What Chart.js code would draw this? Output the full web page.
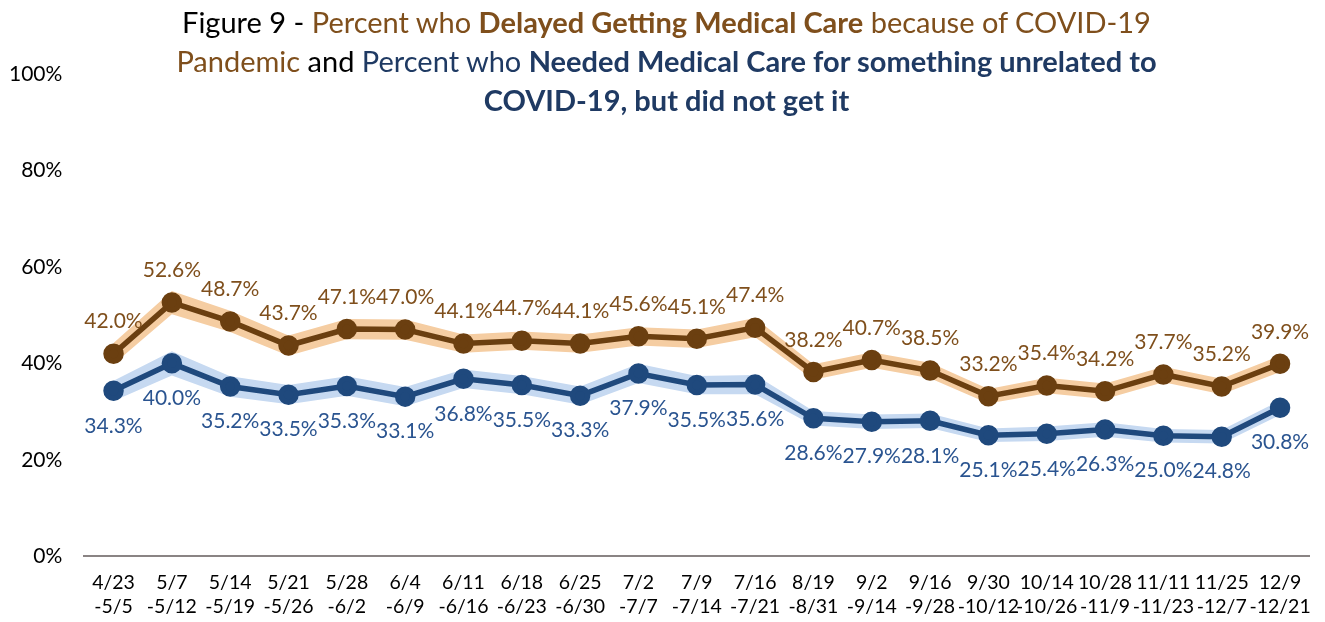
<!DOCTYPE html>
<html>
<head>
<meta charset="utf-8">
<script src="https://cdn.jsdelivr.net/npm/chart.js@4.4.1/dist/chart.umd.min.js"></script>
<style>
    body { margin: 0; background: #fff; }
    #wrap { position: relative; width: 1325px; height: 622px; }
    #title {
        position: absolute; top: 2px; left: 4px; width: 1325px;
        text-align: center; font-family: Lato, sans-serif; font-size: 29px;
        line-height: 39px; color: #000; pointer-events: none;
    }
    .brown { color: #7f4f1c; }
    .navy { color: #1f3a63; }
    b { font-weight: 700; }
</style>
</head>
<body>
<div id="wrap">
    <canvas id="myChart" width="1325" height="622"></canvas>
    <div id="title">
        Figure 9 - <span class="brown">Percent who <b>Delayed Getting Medical Care</b> because of COVID-19<br>Pandemic</span>
        and <span class="navy">Percent who <b>Needed Medical Care for something unrelated to<br>COVID-19, but did not get it</b></span>
    </div>
</div>
<script>

const weekLabels = [
    ['4/23', '-5/5'], ['5/7', '-5/12'], ['5/14', '-5/19'], ['5/21', '-5/26'], ['5/28', '-6/2'],
    ['6/4', '-6/9'], ['6/11', '-6/16'], ['6/18', '-6/23'], ['6/25', '-6/30'], ['7/2', '-7/7'],
    ['7/9', '-7/14'], ['7/16', '-7/21'], ['8/19', '-8/31'], ['9/2', '-9/14'], ['9/16', '-9/28'],
    ['9/30', '-10/12'], ['10/14', '-10/26'], ['10/28', '-11/9'], ['11/11', '-11/23'], ['11/25', '-12/7'],
    ['12/9', '-12/21']
];

// delayed care because of pandemic
const delayedPct   = [42.0, 52.6, 48.7, 43.7, 47.1, 47.0, 44.1, 44.7, 44.1, 45.6, 45.1, 47.4, 38.2, 40.7, 38.5, 33.2, 35.4, 34.2, 37.7, 35.2, 39.9];
const delayedLow   = [39.8, 50.2, 46.5, 41.6, 45.0, 44.9, 42.2, 42.8, 42.2, 43.7, 43.2, 45.4, 36.6, 39.1, 36.9, 31.7, 33.8, 32.6, 36.1, 33.6, 38.2];
const delayedHigh  = [44.2, 55.0, 50.9, 45.8, 49.2, 49.1, 46.0, 46.6, 46.0, 47.5, 47.0, 49.4, 39.8, 42.3, 40.1, 34.7, 37.0, 35.8, 39.3, 36.8, 41.6];

// needed care (unrelated to covid) but did not get it
const unmetPct     = [34.3, 40.0, 35.2, 33.5, 35.3, 33.1, 36.8, 35.5, 33.3, 37.9, 35.5, 35.6, 28.6, 27.9, 28.1, 25.1, 25.4, 26.3, 25.0, 24.8, 30.8];
const unmetLow     = [32.2, 37.5, 33.1, 31.5, 33.3, 31.1, 34.9, 33.6, 31.4, 35.9, 33.6, 33.6, 27.1, 26.4, 26.6, 23.7, 23.9, 24.8, 23.6, 23.4, 29.3];
const unmetHigh    = [36.4, 42.5, 37.3, 35.5, 37.3, 35.1, 38.7, 37.4, 35.2, 39.9, 37.4, 37.6, 30.1, 29.4, 29.6, 26.5, 26.9, 27.8, 26.4, 26.2, 32.3];

const yTicks = [0, 20, 40, 60, 80, 100];


// simple value labels, above for brown, below for blue
const pointLabels = {
    id: 'pointLabels',
    afterDatasetsDraw(chart) {
        const ctx = chart.ctx;
        ctx.save();
        ctx.font = '21px Lato';
        ctx.textAlign = 'center';
        ctx.textBaseline = 'middle';
        chart.data.datasets.forEach((ds, i) => {
            if (!ds.labelPos) return;
            const meta = chart.getDatasetMeta(i);
            ctx.fillStyle = ds.labelColor;
            meta.data.forEach((pt, j) => {
                const dy = ds.labelPos === 'above' ? -32 : 35;
                ctx.fillText(ds.data[j].toFixed(1) + '%', pt.x, pt.y + dy);
            });
        });
        ctx.restore();
    }
};


function drawChart()
{
    const ctx = document.getElementById('myChart').getContext('2d');

    const myChart = new Chart(ctx, {
        type: 'line',
        data: {
            labels: weekLabels,
            datasets: [
                { data: delayedHigh, fill: '+1', backgroundColor: '#f5cda2', borderWidth: 0, pointRadius: 0, order: 3 },
                { data: delayedLow, fill: false, borderWidth: 0, pointRadius: 0, order: 3 },
                { data: unmetHigh, fill: '+1', backgroundColor: '#c6d9f1', borderWidth: 0, pointRadius: 0, order: 3 },
                { data: unmetLow, fill: false, borderWidth: 0, pointRadius: 0, order: 3 },
                {
                    data: delayedPct, borderColor: '#6b3f10', backgroundColor: '#6b3f10',
                    borderWidth: 5.5, pointRadius: 7.5, pointHoverRadius: 7.5, fill: false, order: 1,
                    labelPos: 'above', labelColor: '#7f4f1c'
                },
                {
                    data: unmetPct, borderColor: '#1f497d', backgroundColor: '#1f497d',
                    borderWidth: 5.5, pointRadius: 7.5, pointHoverRadius: 7.5, fill: false, order: 1,
                    labelPos: 'below', labelColor: '#2a5490'
                }
            ]
        },
        options: {
            responsive: false,
            animation: false,
            layout: { padding: { left: -13, right: 13, top: 74, bottom: -11 } },
            plugins: {
                legend: { display: false },
                tooltip: { enabled: false },
                title: { display: false }
            },
            scales: {
                x: {
                    offset: true,
                    grid: { display: false, drawTicks: false },
                    border: { display: true, color: '#8a8484', width: 2 },
                    ticks: {
                        autoSkip: false, maxRotation: 0, padding: 14,
                        color: '#000', font: { family: 'Lato', size: 19.5, lineHeight: 1.25 }
                    }
                },
                y: {
                    min: 0, max: 100,
                    afterBuildTicks: (axis) => { axis.ticks = yTicks.map(v => ({ value: v })); },
                    grid: { display: false, drawTicks: false },
                    border: { display: false },
                    ticks: {
                        padding: 22, color: '#000', font: { family: 'Lato', size: 21 },
                        callback: (v) => v + '%'
                    }
                }
            }
        },
        plugins: [pointLabels]
    });
}

drawChart();
</script>
</body>
</html>
